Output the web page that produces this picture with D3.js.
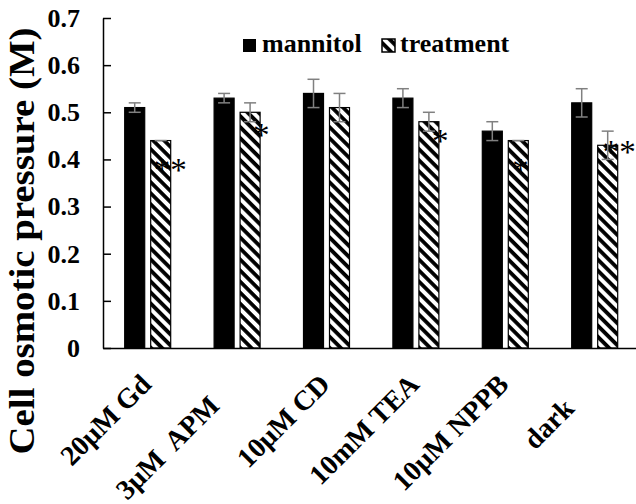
<!DOCTYPE html>
<html>
<head>
<meta charset="utf-8">
<script src="https://cdn.jsdelivr.net/npm/d3@7"></script>
<style>
  body { margin: 0; background: #fff; }
  svg text { font-family: "Liberation Serif", "Times New Roman", serif; white-space: pre; }
</style>
</head>
<body>
<div id="display"></div>
<script>
// data
var categories = ["20μM Gd", "3μM  APM", "10μM CD", "10mM TEA", "10μM NPPB", "dark"];
var seriesNames = ["mannitol", "treatment"];
var mannitol = [0.51, 0.53, 0.54, 0.53, 0.46, 0.52];
var mannitolErr = [0.01, 0.01, 0.03, 0.02, 0.02, 0.03];
var treatment = [0.44, 0.50, 0.51, 0.48, 0.44, 0.43];
var treatmentErr = [0.0, 0.02, 0.03, 0.02, 0.0, 0.03];
var signif = ["**", "*", "", "*", "*", "**"];
var yTicks = [0, 0.1, 0.2, 0.3, 0.4, 0.5, 0.6, 0.7];
var yTickLabels = ["0", "0.1", "0.2", "0.3", "0.4", "0.5", "0.6", "0.7"];

// placement tweaks for stars / labels (px)
var starDx = [3, 13, 0, 13, 4, 5];
var starDy = [40, 34, 0, 30, 40, 18];
var labelShift = [0, 30, 0, 0, 0, 34];

var W = 636, H = 504;
var plotLeft = 103, plotTop = 18, plotBottom = 348;

var svg = d3.select("#display").append("svg")
  .attr("width", W).attr("height", H);

// hatch pattern (wide downward diagonal)
var defs = svg.append("defs");
var pat = defs.append("pattern")
  .attr("id", "hatch")
  .attr("patternUnits", "userSpaceOnUse")
  .attr("width", 7.8).attr("height", 7.8)
  .attr("patternTransform", "rotate(45)");
pat.append("rect").attr("width", 7.8).attr("height", 7.8).attr("fill", "#fff");
pat.append("rect").attr("width", 7.8).attr("height", 3.8).attr("fill", "#000");

var x0 = d3.scaleBand()
  .domain(categories)
  .range([plotLeft, plotLeft + 6 * 89.4])
  .padding(0);

var x1 = d3.scaleBand()
  .domain(seriesNames)
  .range([-23, 23])
  .paddingInner(0.23);

var y = d3.scaleLinear()
  .domain([0, 0.7])
  .range([plotBottom, plotTop]);

var rows = categories.map(function(c, i) {
  return {
    cat: c, i: i,
    vals: [
      {s: "mannitol", v: mannitol[i], e: mannitolErr[i]},
      {s: "treatment", v: treatment[i], e: treatmentErr[i]}
    ]
  };
});

var groups = svg.selectAll("g.grp")
  .data(rows)
  .enter().append("g")
    .attr("class", "grp")
    .attr("transform", function(d) { return "translate(" + (x0(d.cat) + x0.bandwidth() / 2) + ",0)"; });

// bars
groups.selectAll("rect.bar")
  .data(function(d) { return d.vals; })
  .enter().append("rect")
    .attr("class", "bar")
    .attr("x", function(d) { return x1(d.s); })
    .attr("width", x1.bandwidth())
    .attr("y", function(d) { return y(d.v); })
    .attr("height", function(d) { return y(0) - y(d.v); })
    .attr("fill", function(d) { return d.s == "mannitol" ? "#000" : "url(#hatch)"; })
    .attr("stroke", "#000")
    .attr("stroke-width", 1.2);

// significance stars (drawn before error bars)
groups.append("text")
  .attr("x", function(d) { return x1("treatment") + starDx[d.i]; })
  .attr("y", function(d) { return y(treatment[d.i]) + starDy[d.i]; })
  .attr("font-size", 33)
  .attr("fill", "#000")
  .text(function(d) { return signif[d.i]; });

// error bars
var eb = groups.selectAll("g.err")
  .data(function(d) { return d.vals; })
  .enter().append("g")
    .attr("class", "err")
    .attr("stroke", "#808080")
    .attr("stroke-width", 1.5);
eb.append("line")
  .attr("x1", function(d) { return x1(d.s) + x1.bandwidth() / 2; })
  .attr("x2", function(d) { return x1(d.s) + x1.bandwidth() / 2; })
  .attr("y1", function(d) { return y(d.v - d.e); })
  .attr("y2", function(d) { return y(d.v + d.e); });
eb.selectAll("line.cap")
  .data(function(d) { return d.e > 0 ? [d.v - d.e, d.v + d.e].map(function(v) { return {s: d.s, v: v}; }) : [{s: d.s, v: d.v}]; })
  .enter().append("line")
    .attr("class", "cap")
    .attr("x1", function(d) { return x1(d.s) + x1.bandwidth() / 2 - 6; })
    .attr("x2", function(d) { return x1(d.s) + x1.bandwidth() / 2 + 6; })
    .attr("y1", function(d) { return y(d.v); })
    .attr("y2", function(d) { return y(d.v); });

// y axis, ticks inside
var yAxis = svg.append("g")
  .attr("transform", "translate(" + plotLeft + ",0)")
  .call(d3.axisLeft(y)
    .tickValues(yTicks)
    .tickFormat(function(d, i) { return yTickLabels[i]; })
    .tickSizeInner(-8)
    .tickSizeOuter(0)
    .tickPadding(23));
yAxis.select(".domain").attr("stroke", "#000").attr("stroke-width", 1.5);
yAxis.selectAll(".tick line").attr("stroke", "#000").attr("stroke-width", 1.5);
yAxis.selectAll(".tick text")
  .attr("font-size", 26)
  .attr("font-weight", "bold")
  .attr("fill", "#000");

// x axis line
svg.append("g")
  .attr("transform", "translate(0," + plotBottom + ")")
  .call(d3.axisBottom(x0).tickSize(0).tickFormat(""))
  .select(".domain").attr("stroke", "#000").attr("stroke-width", 1.5);

// x labels, rotated
svg.selectAll("text.xlab")
  .data(categories)
  .enter().append("text")
    .attr("class", "xlab")
    .attr("text-anchor", "end")
    .attr("font-size", 28)
    .attr("font-weight", "bold")
    .attr("transform", function(d, i) {
      var s = labelShift[i] / Math.SQRT2;
      var cx = x0(d) + x0.bandwidth() / 2 + 5 - s;
      return "translate(" + cx + "," + (plotBottom + 38 + s) + ") rotate(-45)";
    })
    .text(function(d) { return d; });

// y title
svg.append("text")
  .attr("transform", "translate(34,241) rotate(-90)")
  .attr("text-anchor", "middle")
  .attr("font-size", 35)
  .attr("font-weight", "bold")
  .attr("textLength", 427)
  .attr("lengthAdjust", "spacingAndGlyphs")
  .text("Cell osmotic pressure (M)");

// legend
var leg = svg.append("g");
leg.append("rect").attr("x", 243).attr("y", 39).attr("width", 13).attr("height", 13).attr("fill", "#000");
leg.append("text").attr("x", 262).attr("y", 52).attr("font-size", 26).attr("font-weight", "bold").text(seriesNames[0]);
leg.append("rect").attr("x", 382).attr("y", 39).attr("width", 13).attr("height", 13)
  .attr("fill", "url(#hatch)").attr("stroke", "#000").attr("stroke-width", 1.5);
leg.append("text").attr("x", 400).attr("y", 52).attr("font-size", 26).attr("font-weight", "bold").text(seriesNames[1]);
</script>
</body>
</html>
